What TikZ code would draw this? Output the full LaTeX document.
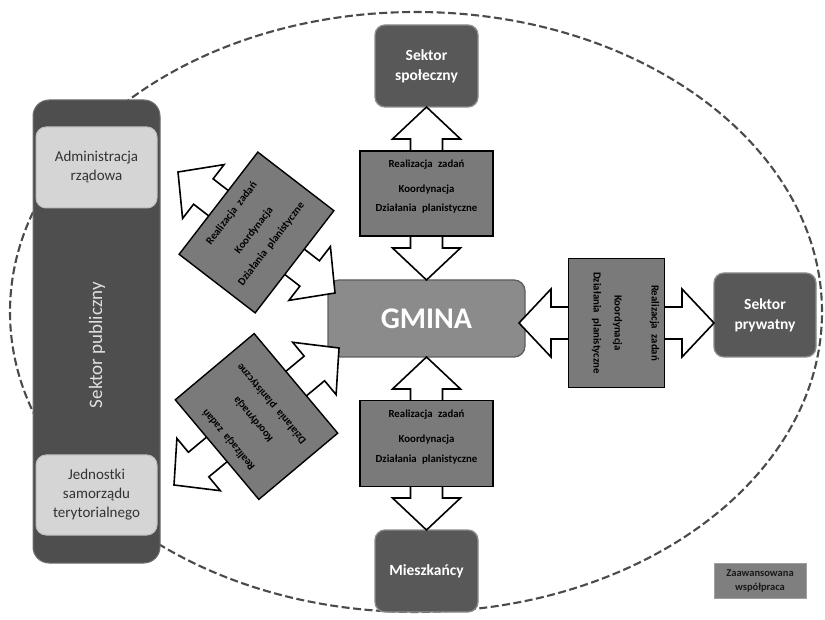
\documentclass[tikz,border=0pt]{standalone}
\usepackage{fontspec}
\setmainfont{Carlito}
\usetikzlibrary{calc}

\definecolor{rimline}{HTML}{4A4A4A}
\definecolor{publicfill}{HTML}{4E4E4E}
\definecolor{publicedge}{HTML}{707070}
\definecolor{unitfill}{HTML}{D5D5D5}
\definecolor{unitedge}{HTML}{BDBDBD}
\definecolor{unittext}{HTML}{333333}
\definecolor{sectorfill}{HTML}{585858}
\definecolor{sectoredge}{HTML}{8C8C8C}
\definecolor{gminafill}{HTML}{8B8B8B}
\definecolor{gminaedge}{HTML}{5E5E5E}
\definecolor{taskfill}{HTML}{7A7A7A}
\definecolor{legendfill}{HTML}{7F7F7F}
\definecolor{legendedge}{HTML}{A0A0A0}

\tikzset{
  sector/.style={rounded corners=10pt, fill=sectorfill, draw=sectoredge, line width=1.3pt,
    text=white, font=\bfseries\fontsize{15.5}{20}\selectfont, align=center,
    inner sep=0pt, outer sep=0pt, minimum width=103pt, minimum height=82pt},
  unit/.style={rounded corners=10pt, fill=unitfill, draw=unitedge, line width=1pt,
    text=unittext, font=\fontsize{15}{19}\selectfont, align=center,
    inner sep=0pt, outer sep=0pt, minimum width=121pt, minimum height=81pt},
  gminabox/.style={rounded corners=11pt, fill=gminafill, draw=gminaedge, line width=1.3pt,
    text=white, font=\bfseries\fontsize{30}{36}\selectfont,
    inner sep=0pt, outer sep=0pt, minimum width=197pt, minimum height=77pt},
  flowarrow/.style={draw=black, fill=white, line width=1.6pt, line join=miter},
  taskbox/.style={fill=taskfill, draw=black, line width=1.4pt, inner sep=0pt,
    outer sep=0pt, transform shape},
  tasktext/.style={font=\bfseries\fontsize{10.8}{13}\selectfont, inner sep=0pt,
    align=center, anchor=north, transform shape},
  rim/.style={draw=rimline, line width=2.1pt, dash pattern=on 8pt off 3.5pt},
}

% double-headed block arrow between two points
\newcommand\twoway[2]{%
  \draw[flowarrow] (#1)
    -- ($(#1)!32pt!(#2)!34pt!90:(#2)$)
    -- ($(#1)!32pt!(#2)!16pt!90:(#2)$)
    -- ($(#2)!32pt!(#1)!16pt!-90:(#1)$)
    -- ($(#2)!32pt!(#1)!34pt!-90:(#1)$)
    -- (#2)
    -- ($(#2)!32pt!(#1)!34pt!90:(#1)$)
    -- ($(#2)!32pt!(#1)!16pt!90:(#1)$)
    -- ($(#1)!32pt!(#2)!16pt!-90:(#2)$)
    -- ($(#1)!32pt!(#2)!34pt!-90:(#2)$)
    -- cycle;}

% box of joint tasks laid over an arrow
% #1 name, #2 centre, #3 rotation, #4 width, #5 height,
% #6 top of the text, #7 and #8 extra space after lines 1 and 2
\newcommand\placetasks[8]{%
  \begin{scope}[shift={#2}, rotate=#3]
    \node[taskbox, minimum width=#4, minimum height=#5] (#1) at (0,0) {};
    \node[tasktext] (#1text) at (0,#6)
      {Realizacja\enspace zadań\\[#7pt]Koordynacja\\[#8pt]Działania\enspace planistyczne};
  \end{scope}}

\begin{document}
\begin{tikzpicture}[x=1pt, y=1pt]
  \useasboundingbox (0,0) rectangle (825,619);
  \fill[white] (0,0) rectangle (825,619);

  % area of cooperation
  \draw[rim] (416,307) ellipse [x radius=406pt, y radius=300pt];

  % public sector column
  \node[rounded corners=16pt, fill=publicfill, draw=publicedge, line width=1pt,
        minimum width=127pt, minimum height=463pt, inner sep=0pt, outer sep=0pt]
        (publiczny) at (96.5,287.5) {};
  \node[text=white!88!black, font=\fontsize{19}{22}\selectfont, rotate=90]
        (publtext) at (97,274) {Sektor publiczny};
  \node[unit] (admin) at (96.5,451.5) {Administracja\\rządowa};
  \node[unit, minimum height=80pt] (jst) at (96.5,124) {Jednostki\\samorządu\\terytorialnego};

  % partners
  \node[sector] (spol) at (426.5,553) {Sektor\\społeczny};
  \node[sector, minimum width=102pt, minimum height=84pt] (pryw) at (765,304) {Sektor\\prywatny};
  \node[sector] (mies) at (426.5,48) {Mieszkańcy};
  \node[gminabox] (gmina) at (426.5,300.5) {GMINA};

  % free ends of the arrows
  \coordinate (rin)  at (519,296);
  \coordinate (rout) at (714,296);
  \coordinate (ulout) at (178,447);
  \coordinate (ulin)  at (335,326);
  \coordinate (llout) at (174,134);
  \coordinate (llin)  at (339,271);

  \twoway{spol.south}{gmina.north}
  \twoway{mies.north}{gmina.south}
  \twoway{rout}{rin}
  \twoway{ulout}{ulin}
  \twoway{llout}{llin}

  \placetasks{tsp}{($(spol.south)!0.5!(gmina.north)$)}{0}{133pt}{85pt}{33.5}{12}{6}
  \placetasks{tmi}{($(mies.north)!0.5!(gmina.south)$)}{0}{133pt}{86pt}{34}{12}{7}
  \placetasks{tpr}{($(rout)!0.5!(rin)$)}{-90}{129pt}{96pt}{43}{24}{8}
  \placetasks{tad}{($(ulout)!0.5!(ulin)$)}{52.4}{129pt}{96pt}{36}{15}{9}
  \placetasks{tjs}{($(llout)!0.5!(llin)$)}{130}{130pt}{103pt}{41}{19}{11}

  % legend
  \node[fill=legendfill, draw=legendedge, line width=0.8pt, minimum width=92pt,
        minimum height=35pt, inner sep=0pt, align=center, text=black!90,
        font=\bfseries\fontsize{10.5}{14}\selectfont] (legend) at (760,38.5)
        {Zaawansowana\\współpraca};
\end{tikzpicture}
\end{document}
